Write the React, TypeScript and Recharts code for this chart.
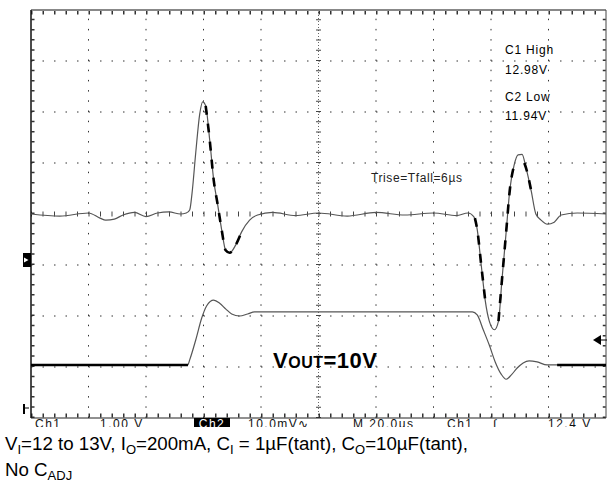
import React from 'react';
import { LineChart, Line, XAxis, YAxis, ReferenceLine } from 'recharts';

// scope screen is 10 x 8 divisions, y = 0 is the centre line
const divX = [1, 2, 3, 4, 6, 7, 8, 9];
const divY = [-3, -2, -1, 1, 2, 3];

// Ch1 (input step 12 -> 13 V) in divisions
const ch1T = [0, 0.5, 1.0, 1.2, 1.3, 1.45, 1.6, 1.8, 2.0, 2.2, 2.4, 2.6, 2.7, 2.76, 2.8, 2.865, 2.934, 2.986, 3.038, 3.108, 3.177, 3.247, 3.316, 3.385, 3.455, 3.559, 3.663, 3.802, 3.941, 4.2, 4.6, 5.0, 5.5, 6.0, 6.5, 7.0, 7.4, 7.6, 7.7, 7.76, 7.83, 7.9, 7.97, 8.06, 8.13, 8.19, 8.26, 8.33, 8.4, 8.47, 8.54, 8.61, 8.7, 8.78, 8.87, 8.98, 9.1, 9.22, 9.5, 10];
const ch1V = [0, -0.04, 0.02, -0.08, -0.12, -0.1, -0.02, 0.03, -0.05, 0.02, 0.04, 0, 0.02, 0.08, 0.4, 1.2, 1.96, 2.2, 2.12, 1.45, 0.67, 0.18, -0.31, -0.71, -0.76, -0.61, -0.35, -0.12, -0.02, 0.03, -0.03, 0.02, -0.04, 0.03, -0.02, 0.02, -0.03, 0.02, -0.05, -0.3, -1.0, -1.7, -2.1, -2.27, -2.1, -1.3, -0.4, 0.5, 0.95, 1.16, 1.17, 0.9, 0.45, 0, -0.12, -0.2, -0.16, -0.02, 0.02, 0];

// fast edges of Ch1, drawn as the black dashed trace (null = gap)
const ch1FastT = [3.038, 3.108, 3.177, 3.247, 3.316, 3.385, 3.455, 3.559, 3.663, 5.0, 7.72, 7.76, 7.83, 7.9, 8.0, 8.13, 8.19, 8.26, 8.33, 8.4, 8.5, 8.58, 8.61, 8.7];
const ch1FastV = [2.12, 1.45, 0.67, 0.18, -0.31, -0.71, -0.76, -0.61, -0.35, null, -0.08, -0.3, -1.0, -1.7, null, -2.1, -1.3, -0.4, 0.5, 0.95, null, 1.0, 0.9, 0.45];

// Ch2 (VOUT = 10 V, AC coupled 10 mV/div)
const ch2T = [0, 2.0, 2.726, 2.76, 2.865, 2.969, 3.056, 3.177, 3.281, 3.385, 3.49, 3.628, 3.767, 3.889, 5.0, 6.5, 7.674, 7.76, 7.865, 7.97, 8.073, 8.177, 8.264, 8.35, 8.455, 8.559, 8.663, 8.802, 8.976, 9.3, 10];
const ch2V = [-2.96, -2.96, -2.96, -2.86, -2.47, -2.04, -1.8, -1.69, -1.75, -1.86, -1.96, -2.0, -1.96, -1.92, -1.92, -1.92, -1.92, -1.98, -2.27, -2.57, -2.9, -3.14, -3.24, -3.16, -3.02, -2.92, -2.88, -2.9, -2.96, -2.96, -2.96];
const ch2BaseT = [0, 2.73, 5, 9.15, 10];
const ch2BaseV = [-2.96, -2.96, null, -2.96, -2.96];

const rows = (t: number[], v: (number | null)[]) => t.map((x, i) => ({ x, y: v[i] }));

const statusItems = [
  { text: 'Ch1', left: 35 },
  { text: '1.00 V', left: 100 },
  { text: '10.0mV\u223F', left: 248 },
  { text: 'M 20.0\u00B5s', left: 353 },
  { text: 'Ch1', left: 447 },
  { text: '\u222B', left: 493 },
  { text: '12.4 V', left: 548 },
];

const noteStyle: React.CSSProperties = {
  position: 'absolute',
  fontSize: 12,
  lineHeight: '12px',
  letterSpacing: 0.8,
  color: '#000',
  whiteSpace: 'nowrap',
};

const subStyle: React.CSSProperties = { fontSize: 13, verticalAlign: '-4px', lineHeight: 0 };

export default function App() {
  const dotted = '1.5 10';
  return (
    <div style={{ position: 'absolute', left: 0, top: 0, width: 607, height: 490, background: '#fff', fontFamily: '"Liberation Sans", Arial, sans-serif' }}>
      <LineChart width={607} height={490} margin={{ top: 10, right: 1, bottom: 72, left: 31 }}>
        <XAxis type="number" dataKey="x" domain={[0, 10]} hide allowDataOverflow />
        <YAxis type="number" dataKey="y" domain={[-4, 4]} hide allowDataOverflow />
        {divX.map(d => (
          <ReferenceLine key={`vx${d}`} x={d} stroke="#333" strokeDasharray="1.5 8.7" />
        ))}
        {divY.map(d => (
          <ReferenceLine key={`hy${d}`} y={d} stroke="#333" strokeDasharray={dotted} />
        ))}
        {/* centre cross with minor ticks */}
        <ReferenceLine x={5} stroke="#666" strokeDasharray="1 2" />
        <ReferenceLine x={5} stroke="#444" strokeWidth={5} strokeDasharray="1 9.2" />
        <ReferenceLine y={0} stroke="#444" strokeWidth={5} strokeDasharray="1 10.5" />
        {/* edge ticks */}
        <ReferenceLine y={3.95} stroke="#333" strokeWidth={4} strokeDasharray="1.5 10" />
        <ReferenceLine y={-3.95} stroke="#333" strokeWidth={4} strokeDasharray="1.5 10" />
        <ReferenceLine x={0.035} stroke="#333" strokeWidth={3} strokeDasharray="1.5 8.7" />
        <ReferenceLine x={9.97} stroke="#333" strokeWidth={3} strokeDasharray="1.5 8.7" />
        {/* frame */}
        <ReferenceLine y={4} stroke="#888" strokeWidth={2} />
        <ReferenceLine y={-4} stroke="#222" strokeWidth={1} />
        <ReferenceLine x={0} stroke="#111" strokeWidth={1.5} />
        <ReferenceLine x={10} stroke="#444" strokeWidth={1} />

        <Line data={rows(ch1T, ch1V)} dataKey="y" type="monotone" stroke="#555" strokeWidth={1.2} dot={false} isAnimationActive={false} />
        <Line data={rows(ch1FastT, ch1FastV)} dataKey="y" type="monotone" stroke="#000" strokeWidth={2.6} strokeDasharray="9 9" dot={false} connectNulls={false} isAnimationActive={false} />
        <Line data={rows(ch2T, ch2V)} dataKey="y" type="monotone" stroke="#555" strokeWidth={1.2} dot={false} isAnimationActive={false} />
        <Line data={rows(ch2BaseT, ch2BaseV)} dataKey="y" type="linear" stroke="#000" strokeWidth={2.6} dot={false} connectNulls={false} isAnimationActive={false} />
      </LineChart>

      {/* markers */}
      <svg width={607} height={490} style={{ position: 'absolute', left: 0, top: 0, pointerEvents: 'none' }}>
        <rect x={23} y={253} width={8} height={14} fill="#000" />
        <polygon points="24,257.5 28.5,260 24,262.5" fill="#fff" />
        <line x1={24} y1={404} x2={24} y2={414} stroke="#000" strokeWidth={2} />
        <line x1={24} y1={408} x2={29} y2={408} stroke="#000" strokeWidth={1} />
        <polygon points="593,340 601,335 601,345" fill="#000" />
        <line x1={601} y1={340} x2={607} y2={340} stroke="#000" strokeWidth={1} />
      </svg>

      <div style={{ ...noteStyle, left: 505, top: 44 }}>C1 High</div>
      <div style={{ ...noteStyle, left: 505, top: 64 }}>12.98V</div>
      <div style={{ ...noteStyle, left: 505, top: 91 }}>C2 Low</div>
      <div style={{ ...noteStyle, left: 505, top: 110 }}>11.94V</div>
      <div style={{ ...noteStyle, left: 371, top: 172, color: '#222', letterSpacing: 0.6 }}>Trise=Tfall=6µs</div>

      <div style={{ position: 'absolute', left: 273, top: 350, fontSize: 22, lineHeight: '22px', fontWeight: 'bold', color: '#000', whiteSpace: 'nowrap', letterSpacing: 0.5 }}>
        V<span style={{ fontSize: 16 }}>OUT</span>=10V
      </div>

      {/* scope status line, cut off by the bottom of the screenshot */}
      <div style={{ position: 'absolute', left: 0, top: 418, width: 607, height: 9, overflow: 'hidden' }}>
        {statusItems.map((s, i) => (
          <span key={i} style={{ position: 'absolute', left: s.left, top: 0, fontSize: 12, lineHeight: '12px', letterSpacing: 1.5, color: '#111', whiteSpace: 'nowrap' }}>
            {s.text}
          </span>
        ))}
        <span style={{ position: 'absolute', left: 194, top: 0, width: 36, height: 12, background: '#000', color: '#fff', fontSize: 12, lineHeight: '12px', letterSpacing: 1.5, textAlign: 'center' }}>Ch2</span>
      </div>

      <div style={{ position: 'absolute', left: 5, top: 431, fontSize: 18.7, lineHeight: '26px', color: '#000', whiteSpace: 'nowrap' }}>
        <div>
          V<sub style={subStyle}>I</sub>=12 to 13V, I<sub style={subStyle}>O</sub>=200mA, C<sub style={subStyle}>I</sub> = 1µF(tant), C<sub style={subStyle}>O</sub>=10µF(tant),
        </div>
        <div>
          No C<sub style={subStyle}>ADJ</sub>
        </div>
      </div>
    </div>
  );
}
